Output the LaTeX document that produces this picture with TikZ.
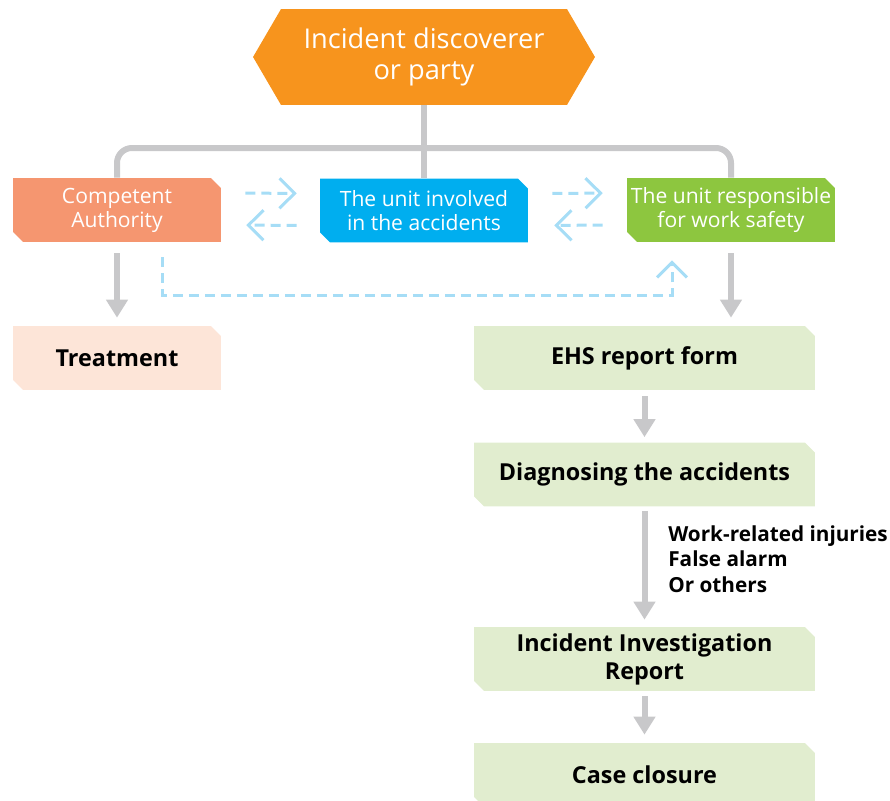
\documentclass[tikz,border=0pt]{standalone}
\usepackage{fontspec}
\setmainfont{Open Sans}
\usepackage{xcolor}
\definecolor{tangerine}{RGB}{247,148,29}
\definecolor{salmon}{RGB}{245,150,112}
\definecolor{skyblue}{RGB}{0,174,239}
\definecolor{leaf}{RGB}{141,198,63}
\definecolor{blush}{RGB}{253,229,216}
\definecolor{mint}{RGB}{225,237,207}
\definecolor{ash}{RGB}{200,200,202}
\definecolor{ice}{RGB}{166,221,246}
\usetikzlibrary{arrows.meta,positioning}
\tikzset{
  %% boxes with two cut corners
  chamf/.style={minimum width=4.16cm, minimum height=1.28cm, inner sep=0pt,
    align=center,
    path picture={\fill[#1] (path picture bounding box.north west)
      -- ([xshift=-0.2cm]path picture bounding box.north east)
      -- ([yshift=-0.2cm]path picture bounding box.north east)
      -- (path picture bounding box.south east)
      -- ([xshift=0.2cm]path picture bounding box.south west)
      -- ([yshift=0.2cm]path picture bounding box.south west) -- cycle;}},
  unitbox/.style={chamf=#1, text=white, font=\fontsize{12}{13.6}\selectfont},
  stepbox/.style={chamf=#1, font=\fontsize{13.3}{16}\selectfont\bfseries},
  widebox/.style={stepbox=mint, minimum width=6.82cm},
  hexbox/.style={minimum width=6.84cm, minimum height=1.92cm, inner sep=0pt,
    align=center, text=white, font=\fontsize{15.5}{18}\selectfont,
    path picture={\fill[tangerine]
      ([xshift=0.56cm]path picture bounding box.north west)
      -- ([xshift=-0.56cm]path picture bounding box.north east)
      -- (path picture bounding box.east)
      -- ([xshift=-0.56cm]path picture bounding box.south east)
      -- ([xshift=0.56cm]path picture bounding box.south west)
      -- (path picture bounding box.west) -- cycle;}},
  conn/.style={draw=ash, line width=0.12cm},
  garrow/.style={conn, -{Triangle[width=0.42cm,length=0.36cm]}},
  barrow/.style={draw=ice, line width=0.06cm, dash pattern=on 0.2cm off 0.12cm,
    -{Straight Barb[width=0.6cm,length=0.3cm]}},
}
\begin{document}
\begin{tikzpicture}[x=0.02cm,y=-0.02cm]
  \useasboundingbox (0,0) rectangle (890,801);
  \node[hexbox] (hex) at (424,57) {Incident discoverer\\or party};
  \node[unitbox=salmon]  (ca)   at (117,210)   {Competent\\Authority};
  \node[unitbox=skyblue] (unit) at (424,210.5) {The unit involved\\in the accidents};
  \node[unitbox=leaf]    (safe) at (731,210)   {The unit responsible\\for work safety};
  \node[stepbox=blush] (treat) at (117,358) {Treatment};
  \node[widebox] (ehs)   at (644.5,358)   {EHS report form};
  \node[widebox] (diag)  at (644.5,474.5) {Diagnosing the accidents};
  \node[widebox] (iir)   at (644.5,659)   {Incident Investigation\\Report};
  \node[widebox] (close) at (644.5,775)   {Case closure};
  %% tree from the discoverer
  \coordinate (split) at (424,148);
  \draw[conn] (hex.south) -- (unit.north);
  \draw[conn, rounded corners=0.3cm] (ca.north) |- (split) -| (safe.north);
  %% exchanges between units
  \draw[barrow, shorten <=0.48cm, shorten >=0.46cm]
    ([yshift=0.34cm]ca.east) -- ([yshift=0.34cm]unit.west);
  \draw[barrow, shorten <=0.46cm, shorten >=0.5cm]
    ([yshift=-0.3cm]unit.west) -- ([yshift=-0.3cm]ca.east);
  \draw[barrow, shorten <=0.48cm, shorten >=0.48cm]
    ([yshift=0.34cm]unit.east) -- ([yshift=0.34cm]safe.west);
  \draw[barrow, shorten <=0.48cm, shorten >=0.52cm]
    ([yshift=-0.3cm]safe.west) -- ([yshift=-0.3cm]unit.east);
  \draw[barrow] ([xshift=0.92cm,yshift=-0.3cm]ca.south) -- ++(0,38)
    -| ([xshift=-1.18cm,yshift=-0.36cm]safe.south);
  %% main flow
  \draw[garrow, shorten <=0.22cm, shorten >=0.16cm] (ca) -- (treat);
  \draw[garrow, shorten <=0.22cm, shorten >=0.16cm] (safe.south) -- (safe.south |- ehs.north);
  \draw[garrow, shorten <=0.12cm, shorten >=0.1cm] (ehs) -- (diag);
  \draw[garrow, shorten <=0.08cm, shorten >=0.14cm] (diag) -- (iir)
    node[midway, anchor=west, xshift=0.3cm, yshift=0.16cm, align=left,
      font=\fontsize{11.8}{14.5}\selectfont\bfseries]
    {Work-related injuries\\False alarm\\Or others};
  \draw[garrow, shorten <=0.1cm, shorten >=0.16cm] (iir) -- (close);
\end{tikzpicture}
\end{document}
